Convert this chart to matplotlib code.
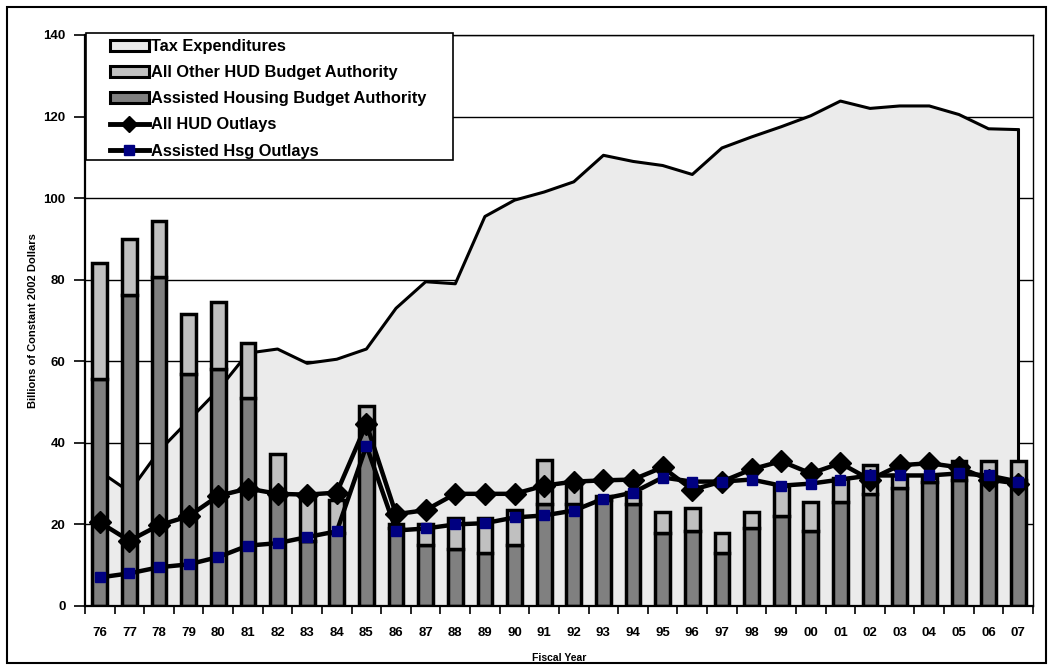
import numpy as np
import matplotlib

matplotlib.use("Agg")
import matplotlib.pyplot as plt
from matplotlib.lines import Line2D
from matplotlib.patches import Patch, Rectangle

plt.rcParams["font.family"] = ["Liberation Sans", "DejaVu Sans"]
plt.rcParams["font.weight"] = "bold"

YEARS = ["76", "77", "78", "79", "80", "81", "82", "83", "84", "85", "86", "87", "88", "89", "90", "91",
         "92", "93", "94", "95", "96", "97", "98", "99", "00", "01", "02", "03", "04", "05", "06", "07"]

# top of the tax expenditures area
TAX_EXPENDITURES = [33, 28, 38, 45.5, 53, 62, 63, 59.5, 60.5, 63, 73, 79.5, 79, 95.5, 99.5, 101.5,
                    104, 110.5, 109, 108, 105.8, 112.3, 115, 117.5, 120.2, 123.8, 122, 122.6, 122.6, 120.5, 117, 116.8]
# stacked bars: assisted housing BA at the bottom, all other HUD BA on top
ASSISTED_BA = [55.6, 76.3, 80.7, 57, 58, 51, 27, 16, 18, 45, 19, 15, 14, 13, 15, 25,
               25, 26, 25, 18, 18.5, 13, 19, 22, 18.5, 25.5, 27.5, 29, 30.5, 31, 31, 31]
TOTAL_BA = [84, 90, 94.4, 71.7, 74.6, 64.4, 37.2, 27, 26, 49, 20, 20, 21.5, 21.5, 23.5, 35.7,
            30, 27, 28, 23, 24, 18, 23, 29.5, 25.5, 31.5, 34.6, 32, 31.5, 35.5, 35.5, 35.5]
HUD_OUTLAYS = [20.5, 16, 19.8, 22, 27, 28.8, 27.5, 27.3, 27.8, 44.6, 22.5, 23.5, 27.5, 27.5, 27.5, 29.5,
               30.5, 30.8, 31, 34, 28.5, 30.5, 33.5, 35.5, 32.5, 35, 31, 34.5, 35, 34, 31, 30]
ASSISTED_OUTLAYS = [7, 8, 9.5, 10.2, 12, 14.8, 15.4, 16.9, 18.3, 39.3, 18.5, 19, 20, 20.3, 21.7, 22.2,
                    23.4, 26.3, 27.8, 31.5, 30.5, 30.5, 31, 29.5, 30, 31, 32, 32, 32, 32.5, 32, 30.5]
LEGEND_LABELS = ["Tax Expenditures", "All Other HUD Budget Authority", "Assisted Housing Budget Authority",
                 "All HUD Outlays", "Assisted Hsg Outlays"]

AREA_COLOR = "#EBEBEB"
LIGHT_BAR = "#C0C0C0"
DARK_BAR = "#808080"
NAVY = "#000080"


def main() -> None:
    x = np.arange(len(YEARS))
    other_ba = np.array(TOTAL_BA) - np.array(ASSISTED_BA)

    fig = plt.figure(figsize=(10.53, 6.69), dpi=100)
    ax = fig.add_axes([0.0807, 0.0942, 0.9003, 0.8535])

    for v in range(20, 141, 20):
        ax.axhline(v, color="black", linewidth=1.0, zorder=0)

    ax.fill_between(x, 0, TAX_EXPENDITURES, color=AREA_COLOR, linewidth=0, zorder=1)
    ax.plot(x, TAX_EXPENDITURES, color="black", linewidth=2.2, zorder=1.5)
    ax.plot([x[-1], x[-1]], [0, TAX_EXPENDITURES[-1]], color="black", linewidth=2.2, zorder=1.5)

    ax.bar(x, ASSISTED_BA, width=0.5, color=DARK_BAR, edgecolor="black", linewidth=2.5, zorder=2)
    ax.bar(x, other_ba, width=0.5, bottom=ASSISTED_BA, color=LIGHT_BAR, edgecolor="black",
           linewidth=2.5, zorder=2)

    ax.plot(x, HUD_OUTLAYS, color="black", linewidth=3.2, marker="D", markersize=11,
            markerfacecolor="black", markeredgecolor="black", zorder=3)
    ax.plot(x, ASSISTED_OUTLAYS, color="black", linewidth=3.2, marker="s", markersize=7,
            markerfacecolor=NAVY, markeredgecolor=NAVY, zorder=4)

    ax.set_xlim(-0.5, len(YEARS) - 0.5)
    ax.set_ylim(0, 140)
    ax.set_yticks(range(0, 141, 20))
    ax.set_xticks(x)
    ax.set_xticklabels(YEARS)
    ax.set_xticks(np.arange(-0.5, len(YEARS), 1.0), minor=True)
    ax.tick_params(axis="x", which="major", length=0, pad=15, labelsize=9.5)
    ax.tick_params(axis="x", which="minor", length=6, width=1.2, direction="out")
    ax.tick_params(axis="y", length=8, width=1.2, direction="out", labelsize=9.5, pad=6)
    for label in ax.get_xticklabels() + ax.get_yticklabels():
        label.set_fontweight("bold")

    for side in ("top", "right"):
        ax.spines[side].set_linewidth(1.0)
    for side in ("left", "bottom"):
        ax.spines[side].set_linewidth(1.6)

    ax.set_xlabel("Fiscal Year", fontsize=7.5, fontweight="bold", labelpad=10)
    ax.set_ylabel("Billions of Constant 2002 Dollars", fontsize=8, fontweight="bold", labelpad=4)

    # legend box drawn by hand so its margins match the original
    ax.add_patch(Rectangle((0.001, 0.781), 0.387, 0.222, transform=ax.transAxes, facecolor="white",
                           edgecolor="black", linewidth=1.2, zorder=5, clip_on=False))
    handles = [
        Patch(facecolor=AREA_COLOR, edgecolor="black", linewidth=2.2),
        Patch(facecolor=LIGHT_BAR, edgecolor="black", linewidth=2.2),
        Patch(facecolor=DARK_BAR, edgecolor="black", linewidth=2.2),
        Line2D([], [], color="black", linewidth=3.5, marker="D", markersize=8, markerfacecolor="black"),
        Line2D([], [], color="black", linewidth=3.5, marker="s", markersize=7,
               markerfacecolor=NAVY, markeredgecolor=NAVY),
    ]
    leg = ax.legend(handles, LEGEND_LABELS, loc="upper left", bbox_to_anchor=(0.026, 0.993),
                    frameon=False, prop={"size": 11.8, "weight": "bold"}, handlelength=2.4,
                    handletextpad=0.1, labelspacing=0.68, borderpad=0.0, borderaxespad=0.0)
    leg.set_zorder(6)

    fig.patches.append(Rectangle((0.007, 0.009), 0.986, 0.981, transform=fig.transFigure,
                                 fill=False, edgecolor="black", linewidth=1.5))

    fig.savefig("out.png", dpi=100)
    plt.close(fig)


if __name__ == "__main__":
    main()
